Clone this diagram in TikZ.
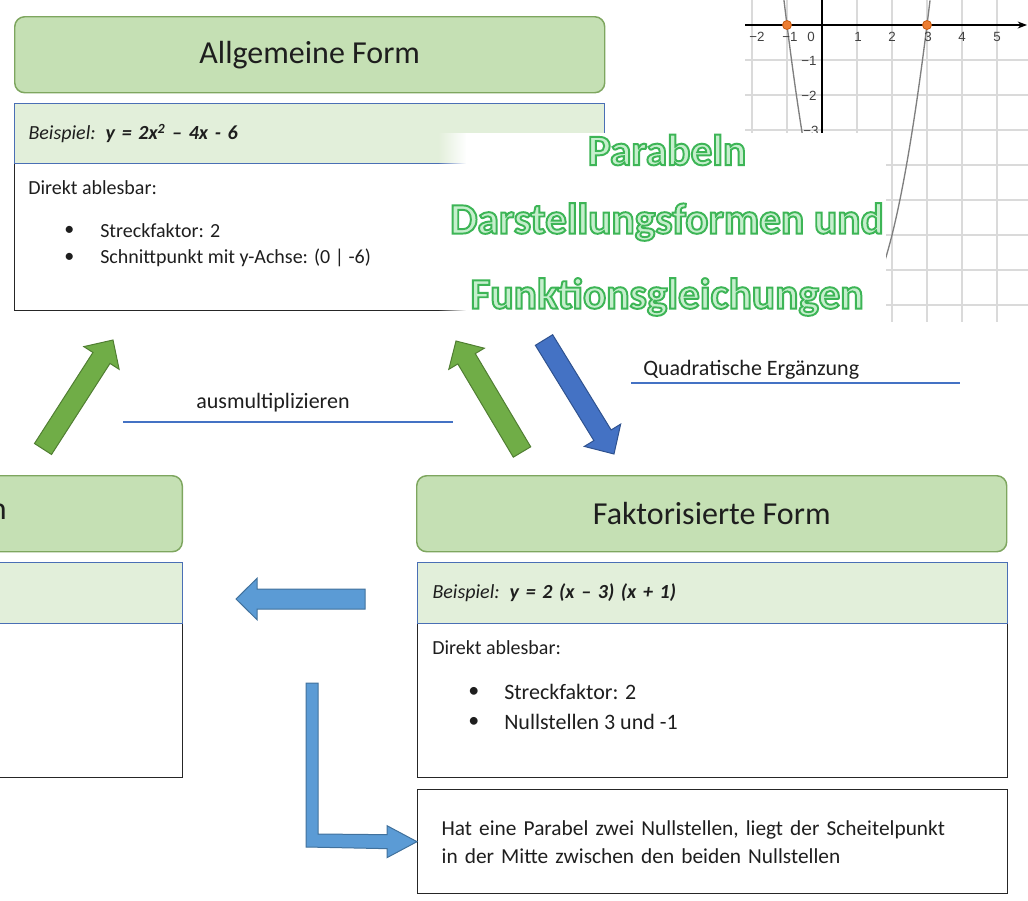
\documentclass[tikz,border=0pt]{standalone}
\usepackage{fontspec}
\setmainfont{Carlito}
\newfontfamily\achsenfont{Liberation Sans}
\newfontfamily\titelfont{Carlito Bold}[FakeBold=4.5]
\usetikzlibrary{calc,fadings,arrows.meta}

\definecolor{kopfgruen}{HTML}{C5E0B4}
\definecolor{kopfrand}{HTML}{7EA65F}
\definecolor{bspgruen}{HTML}{E2EFDA}
\definecolor{bsprand}{HTML}{4A6FB5}
\definecolor{pfeilgruen}{HTML}{70AD47}
\definecolor{pfeilgruenrand}{HTML}{507E32}
\definecolor{pfeilblau}{HTML}{4472C4}
\definecolor{pfeilblaurand}{HTML}{2F528F}
\definecolor{pfeilhellblau}{HTML}{5B9BD5}
\definecolor{pfeilhellblaurand}{HTML}{41719C}
\definecolor{linienblau}{HTML}{4472C4}
\definecolor{titelhell}{HTML}{C6EFCD}
\definecolor{gitter}{HTML}{DADADA}
\definecolor{kurve}{HTML}{7F7F7F}
\definecolor{punkt}{HTML}{ED7D31}
\definecolor{punktrand}{HTML}{C55A11}
\definecolor{schrift}{HTML}{1E1E1E}

% Umrissfarbe der Titelschrift (3DB556)
\newcommand{\umriss}{\special{pdf:literal direct 0.239 0.710 0.337 RG}}

\tikzfading[name=einblenden, left color=transparent!100, right color=transparent!0]

\tikzset{
  titel/.style={draw=kopfrand, fill=kopfgruen, line width=1.1pt, rounded corners=7.5pt,
    anchor=north west, text=schrift, font=\fontsize{24}{28}\selectfont},
  bsp/.style={draw=bsprand, fill=bspgruen, line width=0.8pt, anchor=north west,
    inner xsep=10.5pt, align=left, text=schrift, font=\fontsize{15}{18}\selectfont},
  inhalt/.style={draw=black!85, line width=1pt, anchor=north west},
  klein/.style={anchor=west, inner sep=0pt, text=schrift, font=\fontsize{15}{18}\selectfont},
  normal/.style={anchor=west, inner sep=0pt, text=schrift, font=\fontsize{16.5}{20}\selectfont},
  achse/.style={inner sep=0pt, text=black!75, font=\achsenfont\fontsize{10}{12}\selectfont},
  titelzeile/.style={inner sep=0pt, font=\titelfont\fontsize{32.5}{38}\selectfont},
  gruenpfeil/.style={fill=pfeilgruen, draw=pfeilgruenrand, line width=0.75pt, line join=miter},
  blaupfeil/.style={fill=pfeilblau, draw=pfeilblaurand, line width=0.75pt, line join=miter},
  hellblaupfeil/.style={fill=pfeilhellblau, draw=pfeilhellblaurand, line width=0.75pt, line join=miter}
}

% Blockpfeil: Stil, Fuss, Spitze, halbe Schaftbreite, halbe Kopfbreite, Kopflaenge
\newcommand{\blockpfeil}[6]{%
  \path ($(#3)!#6!(#2)$) coordinate (bp);
  \draw[#1] ($(#2)!#4!90:(#3)$) -- ($(bp)!#4!90:(#3)$) -- ($(bp)!#5!90:(#3)$) -- (#3)
    -- ($(bp)!#5!-90:(#3)$) -- ($(bp)!#4!-90:(#3)$) -- ($(#2)!#4!-90:(#3)$) -- cycle;
}

\begin{document}
\begin{tikzpicture}[x=0.75pt,y=-0.75pt]
	\useasboundingbox (0,0) rectangle (1028,900);
	\clip (0,0) rectangle (1028,900);

	% Allgemeine Form
	\node[titel, minimum width=442.5pt, minimum height=57pt] (allg) at (14,16) {Allgemeine Form};
	\node[inhalt, minimum width=442.5pt, minimum height=110.25pt] (allgInhalt) at (14,163) {};
	\node[bsp, minimum width=442.5pt, minimum height=45pt, text width=421.5pt] (allgBsp) at (14,103)
		{\textit{Beispiel: \textbf{y = 2x\textsuperscript{2} – 4x - 6}}};
	\node[klein] (allgDirekt) at (28,188) {Direkt ablesbar:};
	\node[klein] (allgP1) at (64,231) {\textbullet};
	\node[klein] (allgP2) at (64,258) {\textbullet};
	\node[klein] (allgStreck) at (100,231) {Streckfaktor: 2};
	\node[klein] (allgSchnitt) at (100,258) {Schnittpunkt mit y-Achse: (0 | -6)};

	% Graph oben rechts
	\foreach \gx in {752,787,...,997}
		\draw[gitter, line width=0.9pt] (\gx,0) -- (\gx,322);
	\foreach \gy in {60,95,...,305}
		\draw[gitter, line width=0.9pt] (745,\gy) -- (1028,\gy);
	\draw[line width=0.9pt, -{Stealth[length=7pt]}] (745,25) -- (1027,25);
	\draw[line width=0.9pt] (822,0) -- (822,140);
	\draw[kurve, line width=1pt, domain=-1.087:3.087, samples=80, smooth]
		plot ({822+35*\x},{25-70*(\x-3)*(\x+1)});
	\node[achse] (xm2) at (757,37) {−2};
	\node[achse] (xm1) at (790,37) {−1};
	\node[achse] (x0) at (811,37) {0};
	\node[achse] (x1) at (858,37) {1};
	\node[achse] (x2) at (892,37) {2};
	\node[achse] (x3) at (928,37) {3};
	\node[achse] (x4) at (962,37) {4};
	\node[achse] (x5) at (997,37) {5};
	\node[achse] (ym1) at (809,61) {−1};
	\node[achse] (ym2) at (809,96) {−2};
	\node[achse] (ym3) at (811,131) {−3};
	\filldraw[fill=punkt, draw=punktrand, line width=0.6pt] (787,25) circle (4.5);
	\filldraw[fill=punkt, draw=punktrand, line width=0.6pt] (927,25) circle (4.5);

	% weisser Titelhintergrund
	\fill[white] (466,133) rectangle (886,323);
	\fill[white, path fading=einblenden] (438,133) rectangle (466,323);

	\node[titelzeile] (t1) at (667,150) {\color{titelhell}\umriss Parabeln};
	\node[titelzeile] (t2) at (667,222) {\color{titelhell}\umriss Darstellungsformen und};
	\node[titelzeile] (t3) at (667,297) {\color{titelhell}\umriss Funktionsgleichungen};

	% linke Form (abgeschnitten)
	\node[titel, anchor=north east, minimum width=152.25pt, minimum height=57pt] (scheitel) at (183,475) {};
	\node[anchor=east, inner sep=0pt, text=schrift, font=\fontsize{24}{28}\selectfont] (scheitelRest) at (7,512) {n};
	\node[inhalt, anchor=north east, minimum width=152.25pt, minimum height=115.5pt] (scheitelInhalt) at (183,623) {};
	\node[bsp, anchor=north east, minimum width=152.25pt, minimum height=45.75pt] (scheitelBsp) at (183,562) {};

	% Faktorisierte Form
	\node[titel, minimum width=442.5pt, minimum height=57pt] (fakt) at (416,475) {Faktorisierte Form};
	\node[inhalt, minimum width=442.5pt, minimum height=115.5pt] (faktInhalt) at (417,623) {};
	\node[bsp, minimum width=442.5pt, minimum height=45.75pt, text width=420pt, inner xsep=11.25pt] (faktBsp) at (417,562)
		{\textit{Beispiel: \textbf{y = 2 (x – 3) (x + 1)}}};
	\node[klein] (faktDirekt) at (432,648) {Direkt ablesbar:};
	\node[normal] (faktP1) at (468,692) {\textbullet};
	\node[normal] (faktP2) at (468,722) {\textbullet};
	\node[normal] (faktStreck) at (504,692) {Streckfaktor: 2};
	\node[normal] (faktNull) at (504,722) {Nullstellen 3 und -1};
	\node[inhalt, minimum width=442.5pt, minimum height=78pt, text width=406.5pt, inner xsep=18pt,
		align=left, text=schrift, font=\fontsize{16}{21}\selectfont] (hinweis) at (417,789)
		{Hat eine Parabel zwei Nullstellen, liegt der Scheitelpunkt\\in der Mitte zwischen den beiden Nullstellen};

	% Beschriftungen
	\node[normal, anchor=center] (ausm) at (273,403) {ausmultiplizieren};
	\draw[linienblau, line width=0.8pt] (123,422) -- (453,422);
	\node[normal] (quad) at (643,370) {Quadratische Ergänzung};
	\draw[linienblau, line width=0.8pt] (631,383) -- (960,383);

	% Pfeile
	\coordinate (g1a) at (43,449);
	\coordinate (g1b) at (113,340);
	\coordinate (g2a) at (522,452);
	\coordinate (g2b) at (456,341);
	\coordinate (b1a) at (544,340);
	\coordinate (b1b) at (614,454);
	\coordinate (b2a) at (365,599);
	\coordinate (b2b) at (236,599);
	\blockpfeil{gruenpfeil}{g1a}{g1b}{7.6pt}{15.75pt}{16pt}
	\blockpfeil{gruenpfeil}{g2a}{g2b}{7.6pt}{15.5pt}{15.5pt}
	\blockpfeil{blaupfeil}{b1a}{b1b}{7.6pt}{16pt}{16.5pt}
	\blockpfeil{hellblaupfeil}{b2a}{b2b}{7.5pt}{15.5pt}{15.75pt}
	\coordinate (knick) at (312,683);
	\draw[hellblaupfeil] ($(knick)+(-6,0)$) -- ($(knick)+(6,0)$) -- ($(knick)+(6,151)$) -- ($(hinweis.west)+(-30,-7)$)
		-- ($(hinweis.west)+(-30,-16)$) -- (hinweis.west) -- ($(hinweis.west)+(-30,16)$)
		-- ($(hinweis.west)+(-30,7)$) -- ($(knick)+(-6,164)$) -- cycle;
\end{tikzpicture}
\end{document}
